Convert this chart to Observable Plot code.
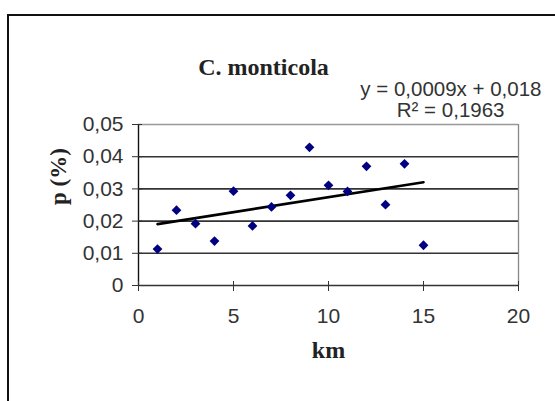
<!DOCTYPE html>
<html>
<head>
<meta charset="utf-8">
<script src="https://cdn.jsdelivr.net/npm/d3@7"></script>
<script src="https://cdn.jsdelivr.net/npm/@observablehq/plot@0.6"></script>
<style>
  html, body { margin: 0; padding: 0; background: #fff; }
  #wrap { position: relative; width: 555px; height: 401px; overflow: hidden; background: #fff; }
  #frame { position: absolute; left: 7px; top: 14px; width: 640px; height: 460px; border: 2px solid #111; box-sizing: border-box; }
  #chart { position: absolute; left: 0; top: 0; }
</style>
</head>
<body>
<div id="wrap"><div id="frame"></div><div id="chart"></div></div>
<script>
const km = [1, 2, 3, 4, 5, 6, 7, 8, 9, 10, 11, 12, 13, 14, 15];
const p = [0.0113, 0.0234, 0.0192, 0.0138, 0.0293, 0.0185, 0.0244, 0.0280, 0.0429, 0.0311, 0.0292, 0.0370, 0.0251, 0.0378, 0.0125];
const xTicks = [0, 5, 10, 15, 20];
const yTicks = [0, 0.01, 0.02, 0.03, 0.04, 0.05];
const title = "C. monticola";
const xLabel = "km";
const yLabel = "p (%)";
const eqLine1 = "y = 0,0009x + 0,018";
const eqLine2 = "R² = 0,1963";

const data = km.map((k, i) => ({km: k, p: p[i]}));
const fmtY = d => d === 0 ? "0" : d.toFixed(2).replace(".", ",");
const sans = "'Liberation Sans', Arial, sans-serif";
const serif = "'Liberation Serif', 'Times New Roman', serif";

const chart = Plot.plot({
  width: 555,
  height: 401,
  marginLeft: 138,
  marginRight: 37,
  marginTop: 124,
  marginBottom: 116,
  style: {background: "transparent", fontFamily: sans, fontSize: "21px", color: "#333", overflow: "visible"},
  x: {domain: [0, 20]},
  y: {domain: [0, 0.05]},
  marks: [
    Plot.ruleY(yTicks.filter(d => d > 0 && d < 0.05), {stroke: "#333", strokeWidth: 1.6}),
    Plot.ruleY([0.05], {stroke: "#999", strokeWidth: 1.3}),
    Plot.ruleX([20], {stroke: "#888", strokeWidth: 1.3}),
    Plot.ruleX([0], {stroke: "#111", strokeWidth: 1.4}),
    Plot.ruleY([0], {stroke: "#333", strokeWidth: 1.4}),
    Plot.axisX({ticks: xTicks, tickSize: 6, tickPadding: 17, tickFormat: d => String(d), fontSize: 21, fill: "#333", stroke: "#333", label: null}),
    Plot.axisX({ticks: xTicks, tickSize: 4, dy: -4, text: null, stroke: "#333", label: null}),
    Plot.axisY({ticks: yTicks, tickSize: 6, tickPadding: 9, tickFormat: fmtY, fontSize: 21, fill: "#333", stroke: "#333", label: null}),
    Plot.axisY({ticks: yTicks, tickSize: 4, dx: 4, text: null, stroke: "#333", label: null}),
    Plot.linearRegressionY(data, {x: "km", y: "p", ci: 0, stroke: "#000", strokeWidth: 2.6}),
    Plot.dot(data, {x: "km", y: "p", symbol: "diamond2", r: 4.4, fill: "#000080", stroke: "none"}),
    Plot.text([title], {text: d => d, frameAnchor: "top", dx: -65, dy: -67, fontFamily: serif, fontWeight: "bold", fontSize: 24, fill: "#222"}),
    Plot.text([eqLine1], {text: d => d, frameAnchor: "top-right", textAnchor: "end", dx: 23, dy: -43, fontFamily: sans, fontSize: 20.5, fill: "#333"}),
    Plot.text([eqLine2], {text: d => d, frameAnchor: "top-right", textAnchor: "end", dx: -14, dy: -22, fontFamily: sans, fontSize: 20.5, fill: "#333"}),
    Plot.text([xLabel], {text: d => d, frameAnchor: "bottom", dy: 72, fontFamily: serif, fontWeight: "bold", fontSize: 24, fill: "#222"}),
    Plot.text([yLabel], {text: d => d, frameAnchor: "left", dx: -80, rotate: -90, fontFamily: serif, fontWeight: "bold", fontSize: 23, fill: "#222"})
  ]
});
document.getElementById("chart").appendChild(chart);
</script>
</body>
</html>
